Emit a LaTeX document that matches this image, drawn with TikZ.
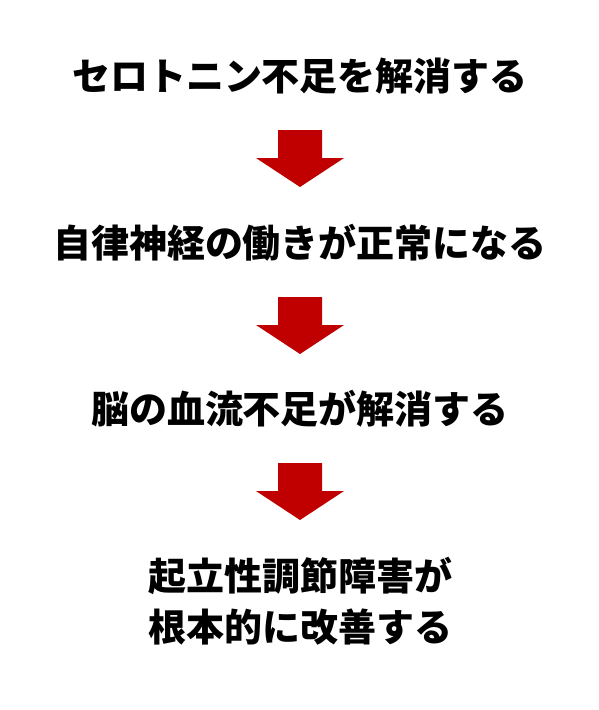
\documentclass[tikz,border=0pt]{standalone}
\usepackage{fontspec}
\newfontfamily\jp{Noto Sans CJK JP}
\definecolor{arrowred}{HTML}{C00000}
\tikzset{
  txt/.style={font=\jp\bfseries\fontsize{38}{51}\selectfont, text=black, align=center, inner sep=0pt},
  blockarrow/.style={fill=arrowred, draw=none}
}
\begin{document}
\begin{tikzpicture}[x=1pt,y=1pt]
\useasboundingbox[fill=white] (0,0) rectangle (599,-710);
\node[txt] (t1) at (300,-76) {セロトニン不足を解消する};
\node[txt] (t2) at (300,-243) {自律神経の働きが正常になる};
\node[txt] (t3) at (300,-409) {脳の血流不足が解消する};
\node[txt] (t4) at (300,-601) {起立性調節障害が\\根本的に改善する};
\foreach \n/\top in {a1/130, a2/297, a3/463}{
  \coordinate (\n) at (300,-\top);
  \fill[blockarrow] ([xshift=-22pt]\n) -- ([xshift=22pt]\n) -- ([xshift=22pt,yshift=-28pt]\n) -- ([xshift=44pt,yshift=-28pt]\n) -- ([yshift=-57pt]\n) -- ([xshift=-44pt,yshift=-28pt]\n) -- ([xshift=-22pt,yshift=-28pt]\n) -- cycle;
}
\end{tikzpicture}
\end{document}
